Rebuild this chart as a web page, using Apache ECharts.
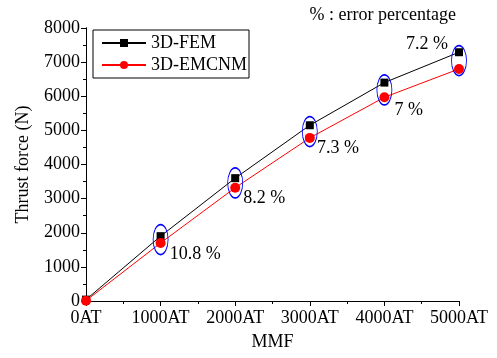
<!DOCTYPE html>
<html>
<head>
<meta charset="utf-8">
<script src="https://cdn.jsdelivr.net/npm/echarts@6/dist/echarts.min.js"></script>
<style>
  html, body { margin: 0; padding: 0; background: #fff; }
  #chart { width: 497px; height: 358px; }
</style>
</head>
<body>
<div id="chart"></div>
<script>
// MMF in ampere-turns
const mmf = [0, 1000, 2000, 3000, 4000, 5000];
const femForce = [40, 1900, 3600, 5150, 6400, 7290];
const emcnmForce = [10, 1700, 3320, 4780, 5970, 6800];
// error percentage labels for 1000..5000AT
const errorLabels = ['', '10.8 %', '8.2 %', '7.3 %', '7 %', '7.2 %'];

const font = 'Liberation Serif, Times New Roman, serif';
const chart = echarts.init(document.getElementById('chart'));

// label offsets relative to each ellipse
const labelPos = [null, [17, 22], [16, 22], [15, 24], [18, 27], [-45, -9]];

// ellipses drawn around each pair of points (skip 0AT)
const ellipseData = [];
for (let i = 1; i < mmf.length; i++) {
    ellipseData.push({
        value: [mmf[i], (femForce[i] + emcnmForce[i]) / 2],
        label: {
            show: true,
            formatter: errorLabels[i],
            color: '#000',
            opacity: 1,
            fontFamily: font,
            fontSize: 18,
            position: labelPos[i]
        }
    });
}

chart.setOption({
    animation: false,
    textStyle: { fontFamily: font },
    title: {
        text: '% : error percentage',
        right: 36,
        top: 1,
        textStyle: { fontFamily: font, fontSize: 18, fontWeight: 'normal', color: '#000' }
    },
    grid: { left: 86, right: 38, top: 28, bottom: 57 },
    legend: {
        left: 93,
        top: 30,
        orient: 'vertical',
        borderColor: '#000',
        borderWidth: 1,
        padding: [4, 2, 4, 8],
        itemGap: 4,
        itemWidth: 44,
        itemHeight: 10,
        textStyle: { fontFamily: font, fontSize: 18, color: '#000' },
        data: ['3D-FEM', '3D-EMCNM']
    },
    xAxis: [{
        type: 'value',
        min: 0, max: 5000, interval: 1000,
        name: 'MMF',
        nameLocation: 'middle',
        nameGap: 32,
        nameTextStyle: { fontFamily: font, fontSize: 18, color: '#000' },
        axisLine: { lineStyle: { color: '#000', width: 1 } },
        axisTick: { length: 5, lineStyle: { color: '#000' } },
        minorTick: { show: true, splitNumber: 2, length: 3, lineStyle: { color: '#000' } },
        axisLabel: { fontFamily: font, fontSize: 18, color: '#000', margin: 8, formatter: v => v + 'AT' },
        splitLine: { show: false }
    }, {
        type: 'value', position: 'top',
        min: 0, max: 5000, interval: 1000,
        axisLine: { show: true, lineStyle: { color: '#000' } },
        axisTick: { inside: true, length: 4, lineStyle: { color: '#000' } },
        minorTick: { show: true, splitNumber: 2, length: 3, lineStyle: { color: '#000' } },
        axisLabel: { show: false },
        splitLine: { show: false }
    }],
    yAxis: [{
        type: 'value',
        min: 0, max: 8000, interval: 1000,
        name: 'Thrust force (N)',
        nameLocation: 'middle',
        nameGap: 54,
        nameTextStyle: { fontFamily: font, fontSize: 18, color: '#000' },
        axisLine: { show: true, lineStyle: { color: '#000', width: 1 } },
        axisTick: { length: 5, lineStyle: { color: '#000' } },
        minorTick: { show: true, splitNumber: 2, length: 3, lineStyle: { color: '#000' } },
        axisLabel: { fontFamily: font, fontSize: 18, color: '#000', margin: 6, formatter: v => String(v) },
        splitLine: { show: false }
    }, {
        type: 'value', position: 'right',
        min: 0, max: 8000, interval: 1000,
        axisLine: { show: true, lineStyle: { color: '#000' } },
        axisTick: { inside: true, length: 4, lineStyle: { color: '#000' } },
        minorTick: { show: true, splitNumber: 2, length: 3, lineStyle: { color: '#000' } },
        axisLabel: { show: false },
        splitLine: { show: false }
    }],
    series: [{
        name: '3D-FEM',
        type: 'line',
        data: mmf.map((x, i) => [x, femForce[i]]),
        symbol: 'rect',
        symbolSize: 8,
        color: '#000',
        lineStyle: { color: '#000', width: 1 },
        itemStyle: { color: '#000' },
        z: 3
    }, {
        name: '3D-EMCNM',
        type: 'line',
        data: mmf.map((x, i) => [x, emcnmForce[i]]),
        symbol: 'circle',
        symbolSize: 10,
        color: '#ff0000',
        lineStyle: { color: '#ff0000', width: 1 },
        itemStyle: { color: '#ff0000' },
        z: 3
    }, {
        name: 'error',
        type: 'scatter',
        data: ellipseData,
        symbol: 'circle',
        symbolSize: [15, 30],
        itemStyle: { color: 'rgba(0,0,0,0)', borderColor: '#0000ff', borderWidth: 1.2, opacity: 1 },
        silent: true,
        z: 4
    }]
});
</script>
</body>
</html>
